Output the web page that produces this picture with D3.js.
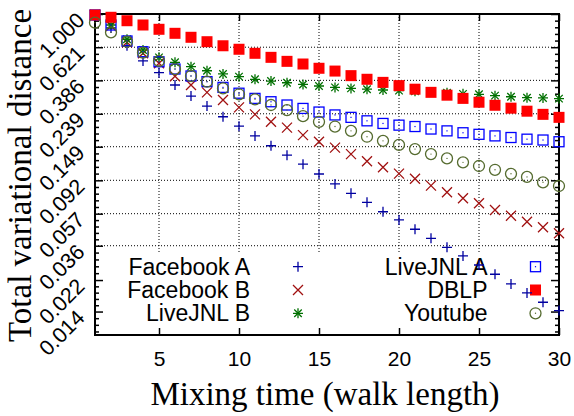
<!DOCTYPE html>
<html>
<head>
<meta charset="utf-8">
<script src="https://cdn.jsdelivr.net/npm/d3@7"></script>
<style>
  body { margin: 0; background: #fff; }
  text { font-family: "Liberation Sans", Arial, sans-serif; }
  .title { font-family: "Liberation Serif", "Times New Roman", serif; }
</style>
</head>
<body>
<script>
// walk lengths
var steps = d3.range(1, 31);

// total variational distance per walk length
var facebookA = [0.986, 0.818, 0.634, 0.510, 0.431, 0.361, 0.308, 0.267, 0.229, 0.200,
                 0.174, 0.151, 0.132, 0.116, 0.1007, 0.0873, 0.0763, 0.0671, 0.0586, 0.0521,
                 0.0456, 0.0400, 0.0352, 0.0311, 0.0273, 0.0239, 0.0208, 0.0183, 0.0160, 0.0142];
var facebookB = [0.986, 0.842, 0.666, 0.569, 0.493, 0.409, 0.361, 0.325, 0.291, 0.262,
                 0.237, 0.213, 0.196, 0.176, 0.160, 0.147, 0.134, 0.121, 0.111, 0.1013,
                 0.0940, 0.0852, 0.0775, 0.0711, 0.0662, 0.0601, 0.0554, 0.0508, 0.0469, 0.0430];
var liveJnlB  = [0.986, 0.854, 0.696, 0.597, 0.537, 0.500, 0.470, 0.443, 0.423, 0.407,
                 0.392, 0.382, 0.373, 0.364, 0.356, 0.349, 0.344, 0.340, 0.336, 0.333,
                 0.330, 0.327, 0.323, 0.318, 0.316, 0.310, 0.305, 0.301, 0.300, 0.297];
var liveJnlA  = [0.986, 0.854, 0.679, 0.582, 0.504, 0.454, 0.411, 0.379, 0.349, 0.321,
                 0.298, 0.284, 0.271, 0.258, 0.245, 0.235, 0.227, 0.216, 0.208, 0.203,
                 0.199, 0.192, 0.187, 0.182, 0.178, 0.174, 0.170, 0.166, 0.164, 0.160];
var dblp      = [0.986, 0.954, 0.908, 0.854, 0.803, 0.758, 0.716, 0.672, 0.634, 0.603,
                 0.569, 0.537, 0.507, 0.488, 0.459, 0.441, 0.413, 0.392, 0.375, 0.358,
                 0.340, 0.325, 0.312, 0.298, 0.282, 0.270, 0.259, 0.248, 0.237, 0.227];
var youtube   = [0.883, 0.769, 0.672, 0.574, 0.510, 0.454, 0.411, 0.379, 0.344, 0.316,
                 0.294, 0.271, 0.252, 0.231, 0.213, 0.199, 0.187, 0.172, 0.162, 0.153,
                 0.144, 0.134, 0.126, 0.119, 0.113, 0.107, 0.101, 0.0966, 0.0894, 0.0848];

var seriesNames = ["Facebook A", "Facebook B", "LiveJNL B", "LiveJNL A", "DBLP", "Youtube"];
var seriesValues = [facebookA, facebookB, liveJnlB, liveJnlA, dblp, youtube];

// tick labels
var xTickValues = [5, 10, 15, 20, 25, 30];
var yTickValues = [1.000, 0.621, 0.386, 0.239, 0.149, 0.092, 0.057, 0.036, 0.022, 0.014];

// margins
var margin = { top: 14, right: 15, bottom: 81, left: 95 },
    width = 574 - margin.left - margin.right,
    height = 416 - margin.top - margin.bottom;

var x = d3.scaleLinear().domain([1, 30]).range([0, width]);
var y = d3.scaleLog().domain([0.01, 1]).range([height, 0]);

// minor ticks: 5 subdivisions between major ticks
var minorTicks = [];
for (var i = 0; i < yTickValues.length; i++) {
  var a = yTickValues[i];
  var b = i < yTickValues.length - 1 ? yTickValues[i + 1] : a * 0.621;
  for (var j = 1; j < 5; j++) {
    var v = a * Math.pow(b / a, j / 5);
    if (v >= 0.01) minorTicks.push(v);
  }
}

// marker styles per series
var styles = [
  { shape: "plus",   color: "#0000a0" },
  { shape: "cross",  color: "#a01010" },
  { shape: "star",   color: "#007000" },
  { shape: "box",    color: "#0000ff" },
  { shape: "fbox",   color: "#ff0000" },
  { shape: "circle", color: "#556b2f" }
];

function drawMarker(sel, style) {
  var s = 5;
  if (style.shape == "plus" || style.shape == "star") {
    sel.append("path").attr("d", "M" + -s + ",0H" + s + "M0," + -s + "V" + s)
      .attr("stroke", style.color).attr("stroke-width", 1.3).attr("fill", "none");
  }
  if (style.shape == "cross" || style.shape == "star") {
    var c = style.shape == "star" ? s * 0.75 : s;
    sel.append("path").attr("d", "M" + -c + "," + -c + "L" + c + "," + c + "M" + -c + "," + c + "L" + c + "," + -c)
      .attr("stroke", style.color).attr("stroke-width", 1.3).attr("fill", "none");
  }
  if (style.shape == "box") {
    sel.append("rect").attr("x", -s).attr("y", -s).attr("width", 2 * s).attr("height", 2 * s)
      .attr("stroke", style.color).attr("stroke-width", 1.3).attr("fill", "none");
    sel.append("rect").attr("x", -0.6).attr("y", -0.6).attr("width", 1.2).attr("height", 1.2)
      .attr("fill", style.color);
  }
  if (style.shape == "fbox") {
    sel.append("rect").attr("x", -5.5).attr("y", -5.5).attr("width", 11).attr("height", 11)
      .attr("fill", style.color);
  }
  if (style.shape == "circle") {
    sel.append("circle").attr("r", 5.5)
      .attr("stroke", style.color).attr("stroke-width", 1.3).attr("fill", "none");
    sel.append("circle").attr("r", 0.7).attr("fill", style.color);
  }
}

var svg = d3.select("body").append("svg")
    .attr("width", 574)
    .attr("height", 416)
    .style("background", "#fff");

var g = svg.append("g")
    .attr("transform", "translate(" + margin.left + "," + margin.top + ")");

// grid lines
g.append("g").selectAll("line.h")
  .data(yTickValues.slice(1))
  .enter().append("line")
  .attr("x1", 0).attr("x2", width)
  .attr("y1", function(d) { return y(d); }).attr("y2", function(d) { return y(d); })
  .attr("stroke", "#000").attr("stroke-width", 1).attr("stroke-dasharray", "1,2");

g.append("g").selectAll("line.v")
  .data(xTickValues.slice(0, -1))
  .enter().append("line")
  .attr("y1", 0).attr("y2", height)
  .attr("x1", function(d) { return x(d); }).attr("x2", function(d) { return x(d); })
  .attr("stroke", "#000").attr("stroke-width", 1).attr("stroke-dasharray", "1,2");

// opaque key area
g.append("rect")
  .attr("x", 1).attr("y", height - 83)
  .attr("width", width - 2).attr("height", 82)
  .attr("fill", "#fff");

// axes
function styleAxis(sel) {
  sel.select(".domain").remove();
  sel.selectAll("line").attr("stroke", "#000").attr("stroke-width", 1.5);
  sel.selectAll("text").attr("fill", "#000").style("font-size", "21px");
}

g.append("g")
  .attr("transform", "translate(0," + height + ")")
  .call(d3.axisBottom(x).tickValues(xTickValues).tickSize(-7).tickPadding(16).tickFormat(d3.format("d")))
  .call(styleAxis);

g.append("g")
  .call(d3.axisTop(x).tickValues(xTickValues).tickSize(-7).tickFormat(""))
  .call(styleAxis);

var yAxis = g.append("g")
  .call(d3.axisLeft(y).tickValues(yTickValues).tickSize(-8).tickFormat(d3.format(".3f")))
  .call(styleAxis);

yAxis.selectAll("text")
  .attr("x", null).attr("dy", null)
  .attr("text-anchor", "end")
  .style("font-size", "21.5px")
  .attr("transform", "translate(-9,7) rotate(-45)");

g.append("g")
  .call(d3.axisLeft(y).tickValues(minorTicks).tickSize(-4).tickFormat(""))
  .call(styleAxis);

g.append("g")
  .attr("transform", "translate(" + width + ",0)")
  .call(d3.axisRight(y).tickValues(yTickValues).tickSize(-8).tickFormat(""))
  .call(styleAxis);

g.append("g")
  .attr("transform", "translate(" + width + ",0)")
  .call(d3.axisRight(y).tickValues(minorTicks).tickSize(-4).tickFormat(""))
  .call(styleAxis);

// border
g.append("rect")
  .attr("width", width).attr("height", height)
  .attr("fill", "none").attr("stroke", "#000").attr("stroke-width", 2);

// legend
var legend = g.append("g").selectAll(".key")
  .data(seriesNames)
  .enter().append("g")
  .attr("class", "key")
  .attr("transform", function(d, i) {
    var col = Math.floor(i / 3), row = i % 3;
    return "translate(" + (155 + col * 237.5) + "," + (height - 68.3 + row * 23.3) + ")";
  });

legend.append("text")
  .attr("text-anchor", "end")
  .attr("y", 8)
  .style("font-size", "23px")
  .text(function(d) { return d; });

legend.each(function(d, i) {
  var m = d3.select(this).append("g").attr("transform", "translate(48,0)");
  drawMarker(m, styles[i]);
});

// data points
seriesValues.forEach(function(values, i) {
  g.append("g").selectAll("g")
    .data(values)
    .enter().append("g")
    .attr("transform", function(d, k) {
      return "translate(" + x(steps[k]) + "," + y(d) + ")";
    })
    .each(function() { drawMarker(d3.select(this), styles[i]); });
});

// axis titles
svg.append("text")
  .attr("class", "title")
  .attr("x", margin.left + width / 2 - 2)
  .attr("y", 405)
  .attr("text-anchor", "middle")
  .style("font-size", "33px")
  .text("Mixing time (walk length)");

svg.append("text")
  .attr("class", "title")
  .attr("transform", "translate(31," + (margin.top + height / 2 + 1) + ") rotate(-90)")
  .attr("text-anchor", "middle")
  .style("font-size", "33px")
  .text("Total variational distance");
</script>
</body>
</html>
